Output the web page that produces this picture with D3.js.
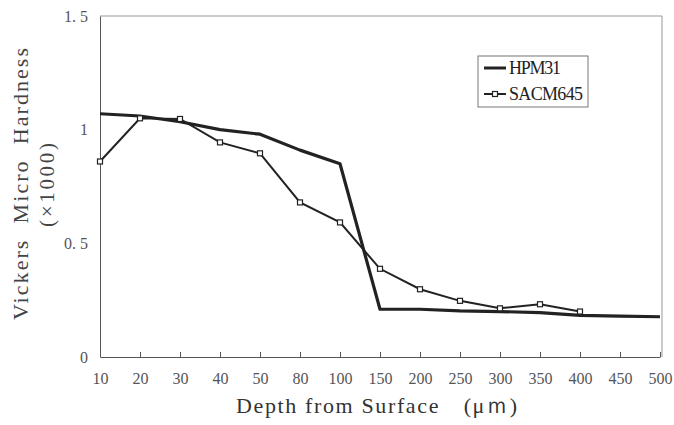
<!DOCTYPE html>
<html><head><meta charset="utf-8">
<script src="https://cdn.jsdelivr.net/npm/d3@7/dist/d3.min.js"></script>
<style>body{margin:0;background:#fff}svg{display:block}</style>
</head><body>
<svg id="c" width="674" height="425"></svg>
<script>
const depths = ["10","20","30","40","50","80","100","150","200","250","300","350","400","450","500"];
const hpm31 = [1.07,1.06,1.035,1.0,0.98,0.91,0.85,0.21,0.21,0.203,0.2,0.195,0.183,0.18,0.177];
const sacm645 = [0.86,1.05,1.047,0.944,0.896,0.68,0.592,0.388,0.298,0.247,0.214,0.232,0.2];
const yTicks = [0,0.5,1,1.5];
const yTickLabels = ["0","0. 5","1","1. 5"];

const svg = d3.select("#c");
const L=100,R=662,T=16,B=357;
const x = d3.scalePoint().domain(depths).range([100,660]).padding(0);
const y = d3.scaleLinear().domain([0,1.5]).range([B,T]);
const font = "'Liberation Serif','DejaVu Serif',serif";
const ink = "#222";

// frame (top/right light)
svg.append("path").attr("d",`M${L},${T}H${R}V${B}`).attr("fill","none").attr("stroke","#999").attr("stroke-width",1);

// x axis
const xa = svg.append("g").attr("transform",`translate(0,${B})`)
  .call(d3.axisBottom(x).tickSizeInner(-5).tickSizeOuter(0).tickPadding(16));
xa.select(".domain").attr("stroke","#555");
xa.selectAll(".tick line").attr("stroke","#555");
xa.selectAll("text").attr("font-family",font).attr("font-size",16).attr("fill","#555");

// y axis
const ya = svg.append("g").attr("transform",`translate(${L},0)`)
  .call(d3.axisLeft(y).tickValues(yTicks).tickFormat((d,i)=>yTickLabels[i]).tickSizeInner(0).tickSizeOuter(0).tickPadding(12));
ya.select(".domain").attr("stroke","#555");
ya.selectAll("text").attr("font-family",font).attr("font-size",16).attr("fill","#555");

// lines
const line = d3.line().x((d,i)=>x(depths[i])).y(d=>y(d));
svg.append("path").datum(hpm31).attr("d",line).attr("fill","none").attr("stroke",ink).attr("stroke-width",3.2).attr("stroke-linejoin","round");
svg.append("path").datum(sacm645).attr("d",line).attr("fill","none").attr("stroke",ink).attr("stroke-width",2);
svg.selectAll("rect.m").data(sacm645).enter().append("rect").attr("class","m")
  .attr("x",(d,i)=>x(depths[i])-2.5).attr("y",d=>y(d)-2.5).attr("width",5).attr("height",5)
  .attr("fill","#fff").attr("stroke",ink).attr("stroke-width",1.2);

// legend
svg.append("rect").attr("x",478).attr("y",56).attr("width",110).attr("height",51).attr("fill","#fff").attr("stroke","#777").attr("stroke-width",1);
svg.append("line").attr("x1",484).attr("x2",506).attr("y1",68).attr("y2",68).attr("stroke",ink).attr("stroke-width",3);
svg.append("line").attr("x1",484).attr("x2",506).attr("y1",94).attr("y2",94).attr("stroke",ink).attr("stroke-width",2);
svg.append("rect").attr("x",492.5).attr("y",91.5).attr("width",5).attr("height",5).attr("fill","#fff").attr("stroke",ink).attr("stroke-width",1.2);
svg.append("text").attr("x",509).attr("y",74).text("HPM31").attr("font-family",font).attr("font-size",18).attr("textLength",52).attr("fill",ink);
svg.append("text").attr("x",509).attr("y",100).text("SACM645").attr("font-family",font).attr("font-size",18).attr("textLength",74).attr("fill",ink);

// axis titles
svg.append("text").attr("x",236).attr("y",413).text("Depth from Surface\u3000(\u03bc\uff4d)")
  .attr("font-family",font).attr("font-size",22).attr("textLength",281).attr("lengthAdjust","spacing").attr("fill","#333");
svg.append("text").attr("transform","translate(28,320) rotate(-90)").text("Vickers\u00a0 Micro\u00a0 Hardness")
  .attr("font-family",font).attr("font-size",22).attr("textLength",272).attr("lengthAdjust","spacing").attr("fill","#444");
svg.append("text").attr("transform","translate(54,227) rotate(-90)").text("(\u00d71000)")
  .attr("font-family",font).attr("font-size",21).attr("textLength",84).attr("lengthAdjust","spacing").attr("fill","#444");
</script>
</body></html>
